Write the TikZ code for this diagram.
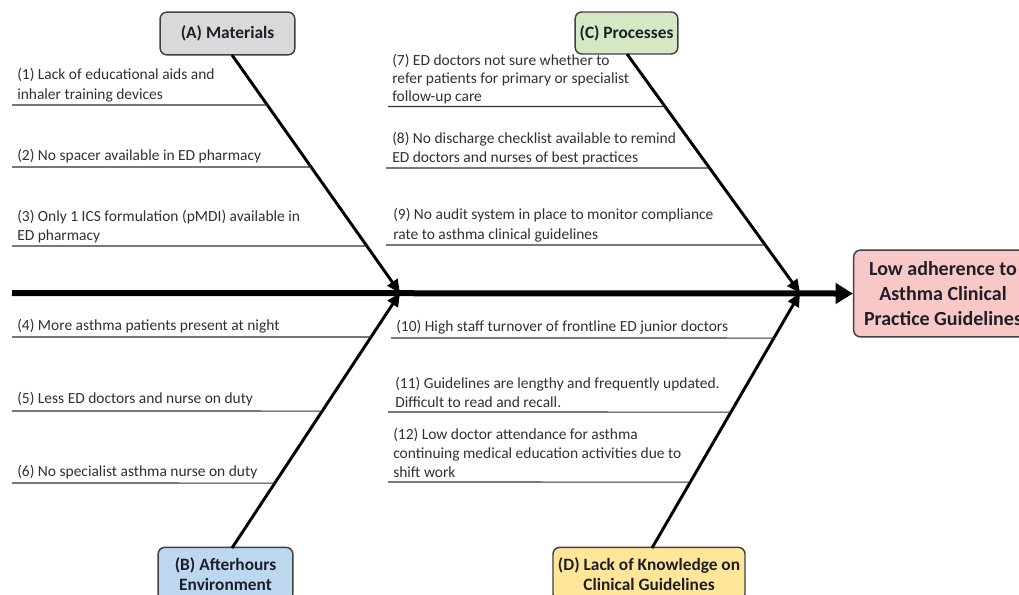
\documentclass[tikz,border=0pt]{standalone}
\usepackage{fontspec}
\setmainfont{Carlito}
\usetikzlibrary{arrows.meta,calc}
\definecolor{txt}{HTML}{303030}
\definecolor{btxt}{HTML}{1E1E2A}
\definecolor{bord}{HTML}{404040}
\definecolor{fA}{HTML}{D9D9D9}
\definecolor{fB}{HTML}{BDD7EE}
\definecolor{fC}{HTML}{D5E8C4}
\definecolor{fD}{HTML}{FFE699}
\definecolor{fT}{HTML}{F8C8C6}
\tikzset{
  cat/.style={draw=bord, line width=1.1pt, rounded corners=5pt, align=center,
    font=\fontsize{13}{15.5}\selectfont\bfseries, text=btxt, inner sep=1pt},
  leaf/.style={anchor=south west, align=left, inner sep=0pt, text=txt,
    font=\fontsize{11.6}{14.4}\selectfont},
  rule/.style={draw=txt, line width=0.8pt},
  bone/.style={draw=black, line width=2.2pt, -{Triangle[length=10pt,width=9pt]}},
  spine/.style={draw=black, line width=4.5pt, -{Triangle[length=13pt,width=15pt]}}
}
\begin{document}
\begin{tikzpicture}[x=0.75pt,y=-0.75pt]
\useasboundingbox (0,0) rectangle (1019,594);
\clip (0,0) rectangle (1019,594);
% category boxes
\node[cat, fill=fA, minimum width=101pt, minimum height=32pt] (A) at (227.5,33.5) {(A) Materials};
\node[cat, fill=fB, minimum width=101pt, minimum height=40pt] (B) at (225.5,574) {(B) Afterhours\\Environment};
\node[cat, fill=fC, minimum width=77pt, minimum height=31.5pt] (C) at (626.5,33) {(C) Processes};
\node[cat, fill=fD, minimum width=144pt, minimum height=40pt] (D) at (649,574) {(D) Lack of Knowledge on\\Clinical Guidelines};
\node[cat, fill=fT, minimum width=134pt, minimum height=65pt, font=\fontsize{15}{18.5}\selectfont\bfseries] (T) at (943,293.5) {Low adherence to\\Asthma Clinical\\Practice Guidelines};
% bone end points
\coordinate (a1) at (232,55);
\coordinate (a2) at (400,293);
\coordinate (b1) at (232,548);
\coordinate (b2) at (400,293);
\coordinate (c1) at (627,54);
\coordinate (c2) at (800,293);
\coordinate (d1) at (652,548);
\coordinate (d2) at (800,293);
\coordinate (s0) at (12,293);
% spine and bones
\draw[spine] (s0) -- (T.west);
\draw[bone] (a1) -- (a2);
\draw[bone] (b1) -- (b2);
\draw[bone] (c1) -- (c2);
\draw[bone] (d1) -- (d2);
% leaves, left side
\node[leaf] (t1) at (17,102) {(1) Lack of educational aids and\\inhaler training devices};
\draw[rule] (12,105) -- (intersection of a1--a2 and 12,105--500,105);
\node[leaf] (t2) at (17,163) {(2) No spacer available in ED pharmacy};
\draw[rule] (12,167) -- (intersection of a1--a2 and 12,167--500,167);
\node[leaf] (t3) at (17,243) {(3) Only 1 ICS formulation (pMDI) available in\\ED pharmacy};
\draw[rule] (12,246) -- (intersection of a1--a2 and 12,246--500,246);
\node[leaf] (t4) at (17,333) {(4) More asthma patients present at night};
\draw[rule] (12,337) -- (intersection of b1--b2 and 12,337--500,337);
\node[leaf] (t5) at (17,406) {(5) Less ED doctors and nurse on duty};
\draw[rule] (12,411) -- (intersection of b1--b2 and 12,411--500,411);
\node[leaf] (t6) at (17,479) {(6) No specialist asthma nurse on duty};
\draw[rule] (12,483) -- (intersection of b1--b2 and 12,483--500,483);
% leaves, right side
\node[leaf, font=\fontsize{11.6}{13.6}\selectfont] (t7) at (392,104.5) {(7) ED doctors not sure whether to\\refer patients for primary or specialist\\follow-up care};
\draw[rule] (388,106.5) -- (intersection of c1--c2 and 388,106.5--900,106.5);
\node[leaf] (t8) at (392,165) {(8) No discharge checklist available to remind\\ED doctors and nurses of best practices};
\draw[rule] (386,168) -- (intersection of c1--c2 and 386,168--900,168);
\node[leaf] (t9) at (393,242) {(9) No audit system in place to monitor compliance\\rate to asthma clinical guidelines};
\draw[rule] (386,245) -- (intersection of c1--c2 and 386,245--900,245);
\node[leaf] (t10) at (396,334) {(10) High staff turnover of frontline ED junior doctors};
\draw[rule] (391,338) -- (intersection of d1--d2 and 391,338--900,338);
\node[leaf] (t11) at (395,408) {(11) Guidelines are lengthy and frequently updated.\\Difficult to read and recall.};
\draw[rule] (388,412) -- (intersection of d1--d2 and 388,412--900,412);
\node[leaf] (t12) at (393,478) {(12) Low doctor attendance for asthma\\continuing medical education activities due to\\shift work};
\draw[rule] (388,482) -- (intersection of d1--d2 and 388,482--900,482);
\end{tikzpicture}
\end{document}
